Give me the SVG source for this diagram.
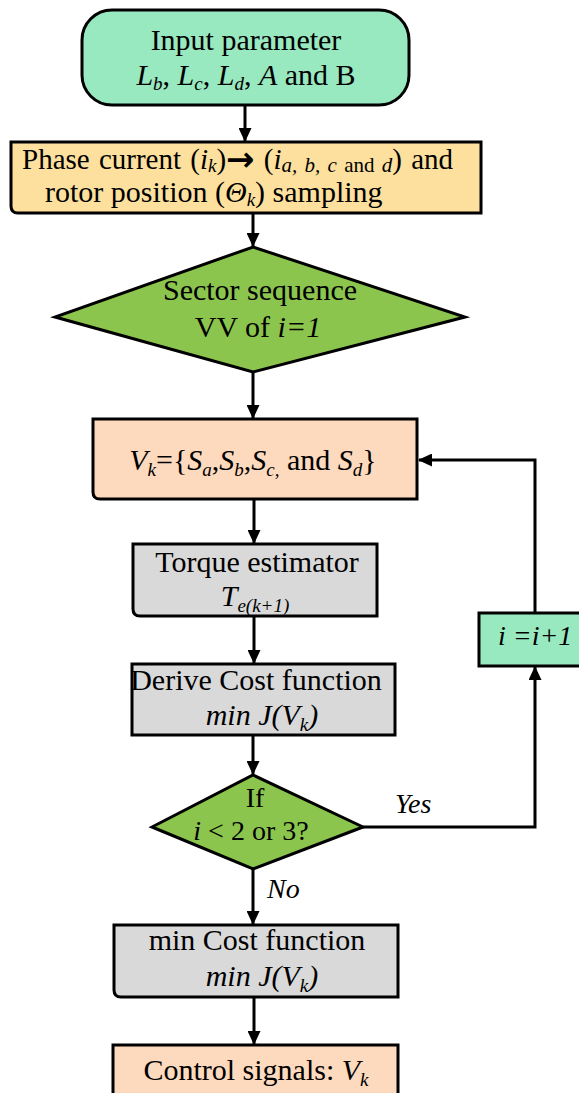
<svg xmlns="http://www.w3.org/2000/svg" width="579" height="1093" viewBox="0 0 579 1093">
<style>
text{font-family:"Liberation Serif","Times New Roman",serif;fill:#000;}
.t30{font-size:30px;}
.t28{font-size:28px;}
.t29{font-size:29px;}
.i{font-style:italic;}
.s{font-size:19px;}
.s2{font-size:21px;}
.box{stroke:#000;stroke-width:3;}
.mint{fill:#98e8c0;}
.yel{fill:#fde09e;}
.grn{fill:#8cc54e;}
.peach{fill:#fdd9bd;}
.gray{fill:#d9d9d9;}
.con{fill:none;stroke:#000;stroke-width:3;marker-end:url(#ah);}
</style>
<defs>
<marker id="ah" markerUnits="userSpaceOnUse" viewBox="0 0 14 13" refX="13" refY="6.5" markerWidth="14" markerHeight="13" orient="auto">
<path d="M0,0 L14,6.5 L0,13 Z" fill="#000"/>
</marker>
</defs>
<rect width="579" height="1093" fill="#fff"/>

<g id="connectors">
<path class="con" d="M245,105 V141"/>
<path class="con" d="M253,213 V246"/>
<path class="con" d="M253,372 V418"/>
<path class="con" d="M254,499 V543"/>
<path class="con" d="M254,616 V663"/>
<path class="con" d="M253,735 V774"/>
<path class="con" d="M253,869 V924"/>
<path class="con" d="M254,997 V1044"/>
<path class="con" d="M363,827 H535 V667"/>
<path class="con" d="M535,613 V460 H419"/>
<text class="t28 i" x="395" y="813">Yes</text>
<text class="t28 i" x="267" y="898">No</text>
</g>

<g id="input">
<rect class="box mint" x="82" y="10" width="327" height="95" rx="30"/>
<text class="t30" x="246" y="50" text-anchor="middle">Input parameter</text>
<text class="t30" x="246" y="85" text-anchor="middle"><tspan class="i">L</tspan><tspan class="i s" dy="5">b</tspan><tspan dy="-5">, </tspan><tspan class="i">L</tspan><tspan class="i s" dy="5">c</tspan><tspan dy="-5">, </tspan><tspan class="i">L</tspan><tspan class="i s" dy="5">d</tspan><tspan dy="-5">, </tspan><tspan class="i">A</tspan><tspan> and B</tspan></text>
</g>

<g id="sampling">
<path class="box yel" d="M11,142 H481 V213 H18 Q11,213 11,206 Z"/>
<text class="t29" x="22" y="169" word-spacing="2"><tspan>Phase current (</tspan><tspan class="i">i</tspan><tspan class="i s" dy="3">k</tspan><tspan dy="-3">)</tspan><tspan font-family="DejaVu Sans" font-weight="bold" font-size="34" dy="2">→</tspan><tspan dy="-2"> (</tspan><tspan class="i">i</tspan><tspan class="i s2" dy="3">a, b, c</tspan><tspan class="s2"> and </tspan><tspan class="i s2">d</tspan><tspan dy="-3">) and</tspan></text>
<text class="t30" x="45" y="202"><tspan>rotor position (</tspan><tspan class="i">Θ</tspan><tspan class="i s" dy="4">k</tspan><tspan dy="-4">) sampling</tspan></text>
</g>

<g id="sector">
<polygon class="box grn" points="253,247 465,317 253,372 55,317"/>
<text class="t30" x="260" y="300" text-anchor="middle">Sector sequence</text>
<text class="t30" x="258" y="337" text-anchor="middle"><tspan>VV of </tspan><tspan class="i">i=1</tspan></text>
</g>

<g id="vk">
<path class="box peach" d="M93,419 H417 V499 H100 Q93,499 93,492 Z"/>
<text class="t30" x="253" y="470" text-anchor="middle"><tspan class="i">V</tspan><tspan class="i s" dy="6">k</tspan><tspan dy="-6">={</tspan><tspan class="i">S</tspan><tspan class="i s" dy="6">a</tspan><tspan dy="-6">,</tspan><tspan class="i">S</tspan><tspan class="i s" dy="6">b</tspan><tspan dy="-6">,</tspan><tspan class="i">S</tspan><tspan class="i s" dy="6">c,</tspan><tspan dy="-6"> and </tspan><tspan class="i">S</tspan><tspan class="i s" dy="6">d</tspan><tspan dy="-6">}</tspan></text>
</g>

<g id="torque">
<path class="box gray" d="M133,544 H377 V616 H140 Q133,616 133,609 Z"/>
<text class="t30" x="257" y="572" text-anchor="middle">Torque estimator</text>
<text class="t30 i" x="255" y="606" text-anchor="middle"><tspan>T</tspan><tspan class="s" dy="6">e(k+1)</tspan></text>
</g>

<g id="derive">
<rect class="box gray" x="132" y="664" width="263" height="71"/>
<text class="t30" x="256" y="690" text-anchor="middle">Derive Cost function</text>
<text class="t30 i" x="262" y="725" text-anchor="middle"><tspan>min J(V</tspan><tspan class="s" dy="6">k</tspan><tspan dy="-6">)</tspan></text>
</g>

<g id="increment">
<rect class="box mint" x="479" y="613" width="110" height="53"/>
<text class="t28 i" x="498" y="645">i =i+1</text>
</g>

<g id="check">
<polygon class="box grn" points="253,775 363,827 253,869 152,827"/>
<text class="t28" x="255" y="807" text-anchor="middle">If</text>
<text class="t28" x="251" y="840" text-anchor="middle"><tspan class="i">i</tspan><tspan> &lt; 2 or 3?</tspan></text>
</g>

<g id="mincost">
<path class="box gray" d="M114,925 H398 V997 H121 Q114,997 114,990 Z"/>
<text class="t30" x="257" y="950" text-anchor="middle">min Cost function</text>
<text class="t30 i" x="262" y="986" text-anchor="middle"><tspan>min J(V</tspan><tspan class="s" dy="6">k</tspan><tspan dy="-6">)</tspan></text>
</g>

<g id="control">
<rect class="box peach" x="113" y="1045" width="285" height="60"/>
<text class="t30" x="256" y="1080" text-anchor="middle"><tspan>Control signals: </tspan><tspan class="i">V</tspan><tspan class="i s" dy="6">k</tspan></text>
</g>
</svg>
